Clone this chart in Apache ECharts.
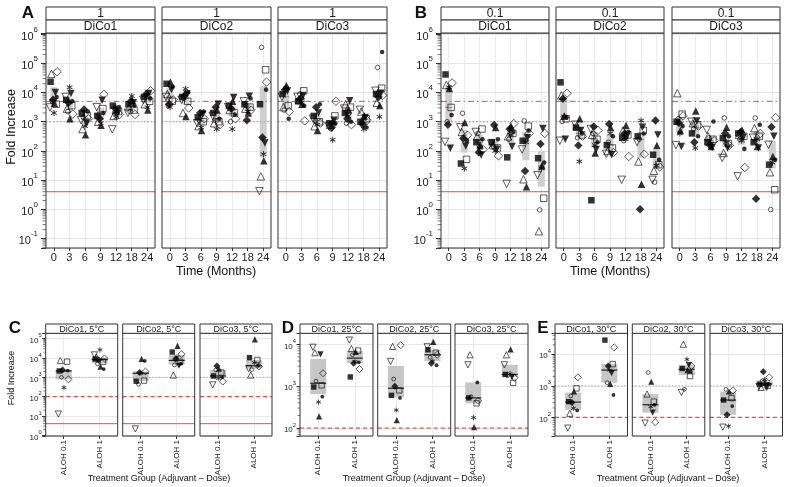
<!DOCTYPE html>
<html><head><meta charset="utf-8"><title>Fold increase</title>
<script src="https://cdn.jsdelivr.net/npm/echarts@6.0.0/dist/echarts.min.js"></script>
<style>html,body{margin:0;padding:0;background:#fff;}#chart{width:786px;height:487px;}</style>
</head><body><div id="chart"></div>
<script>
// ---------- categories / labels ----------
const timeMonths = ['0','3','6','9','12','18','24'];
const treatmentGroups = ['ALOH 0.1','ALOH 1'];
const doseStrips = ['1','0.1'];
const dicoNames = ['DiCo1','DiCo2','DiCo3'];
const tempLabels = ['5°C','25°C','30°C'];

// ---------- values: log10(fold increase) ----------
// one row per x category, 11 animals per row (index = symbol), null = no point
const A_DiCo1 = [
 [4.37,3.6,3.75,4.71,3.63,4.64,4.0,3.49,3.85,3.7,3.3],
 [3.75,3.55,3.65,3.26,3.1,3.45,3.97,3.85,3.7,3.35,4.18],
 [3.3,3.2,3.42,3.1,2.55,2.75,2.95,3.05,3.35,3.15,2.85],
 [3.2,3.45,3.1,3.94,2.88,3.0,3.74,3.5,3.3,3.25,2.95],
 [3.55,3.35,3.45,3.25,3.4,3.2,3.3,2.74,3.5,3.3,3.15],
 [3.6,3.4,3.7,3.25,3.74,3.5,3.65,3.3,3.55,3.35,3.88],
 [3.85,3.7,3.95,4.06,3.4,3.6,3.97,3.75,3.8,3.9,3.5]];
const A_DiCo2 = [
 [4.3,3.7,3.6,3.75,4.36,3.95,4.1,3.85,4.2,3.55,3.5],
 [3.85,3.7,3.9,3.47,3.18,3.3,3.95,3.75,4.0,3.8,4.13],
 [3.15,3.0,3.3,3.1,2.7,2.85,3.25,2.95,3.35,3.05,2.8],
 [3.3,3.0,3.5,2.9,3.4,2.95,3.6,3.2,3.1,3.05,2.75],
 [3.55,3.3,3.45,3.1,3.7,3.4,3.83,3.5,3.25,3.0,2.75],
 [3.6,3.5,3.05,3.4,3.3,3.45,3.87,3.7,3.8,3.55,3.35],
 [3.6,4.78,2.46,4.36,1.66,1.13,2.27,0.62,4.1,5.55,1.89]];
const A_DiCo3 = [
 [3.95,3.55,4.1,3.35,4.24,3.5,4.05,3.85,3.1,3.4,4.15],
 [3.7,4.06,3.8,3.03,3.6,3.75,3.9,3.85,3.55,3.95,3.65],
 [3.2,3.0,3.5,2.95,2.7,2.85,3.3,3.1,3.6,3.05,2.9],
 [2.95,3.2,2.8,3.7,3.0,2.9,3.05,2.85,2.95,2.75,2.38],
 [3.3,3.5,3.1,2.9,3.4,3.6,3.72,3.45,3.0,2.95,3.2],
 [3.0,3.1,2.9,3.05,3.2,3.35,3.15,3.41,2.8,2.95,2.75],
 [3.95,4.15,3.85,3.9,3.56,3.65,3.98,4.06,5.39,4.86,3.17]];
const B_DiCo1 = [
 [4.62,3.49,2.9,4.33,4.14,4.26,2.09,2.31,3.23,3.0,4.18],
 [1.57,1.71,2.43,2.54,2.97,2.65,2.17,2.81,2.35,3.29,1.4],
 [2.3,2.75,1.95,2.05,2.2,2.5,1.86,2.65,2.4,2.6,2.1],
 [2.3,2.1,2.89,1.83,2.8,2.2,2.05,2.25,2.4,2.15,2.0],
 [1.78,2.6,2.75,2.94,2.85,2.5,2.15,0.87,2.65,2.4,2.55],
 [2.35,2.85,1.31,2.6,0.77,1.03,2.45,2.05,2.7,3.03,2.3],
 [1.75,0.38,2.24,2.6,1.49,-0.75,2.77,1.17,1.6,-0.02,1.4]];
const B_DiCo2 = [
 [4.35,3.1,3.79,3.98,3.2,3.9,2.4,2.35,3.15,3.01,3.18],
 [2.8,2.55,2.19,2.5,3.1,2.85,2.7,2.9,2.6,2.45,1.64],
 [0.31,2.4,2.84,2.7,1.93,2.55,2.05,2.75,2.3,2.6,2.2],
 [2.2,2.1,2.92,1.95,2.8,2.0,1.87,1.9,2.5,2.3,2.6],
 [2.45,2.55,2.6,1.81,2.87,2.7,2.5,1.01,2.65,2.35,2.4],
 [2.5,2.7,0.0,1.89,0.86,1.64,2.81,2.3,2.6,2.4,3.04],
 [1.87,1.53,3.04,1.45,2.19,1.32,2.55,1.01,1.7,0.93,1.5]];
const B_DiCo3 = [
 [3.0,3.26,2.96,3.2,2.7,3.98,2.15,2.2,2.85,3.1,2.6],
 [2.6,2.9,2.3,2.85,3.37,2.95,3.03,3.0,2.5,2.75,2.1],
 [2.3,2.4,2.2,2.35,2.15,2.5,2.12,2.72,3.01,2.45,2.25],
 [2.44,2.25,2.6,2.19,2.81,1.93,2.1,1.76,2.5,3.13,2.3],
 [2.6,2.5,2.65,1.43,2.72,2.55,2.45,1.13,2.07,2.4,2.35],
 [2.3,2.5,0.36,2.6,2.15,2.78,2.1,2.45,2.9,3.13,2.4],
 [1.53,0.67,2.82,3.14,1.81,1.27,2.5,2.21,1.7,-0.01,1.6]];
// bottom: rows = [ALOH 0.1, ALOH 1]
const C_DiCo1 = [[3.33,3.81,3.38,2.9,null,3.87,null,1.1,3.35,3.0,2.47],[3.95,3.81,3.9,3.98,3.56,4.05,null,4.16,3.43,3.7,4.42]];
const C_DiCo2 = [[2.8,2.83,3.25,3.3,3.95,null,null,0.33,3.85,2.64,3.21],[4.31,3.8,3.95,4.2,4.63,3.12,3.6,null,3.7,3.64,4.05]];
const C_DiCo3 = [[3.07,3.25,3.59,2.78,3.45,null,null,2.61,3.0,3.38,2.95],[4.02,3.9,null,3.56,4.97,3.12,null,3.45,3.6,3.4,3.76]];
const D_DiCo1 = [[2.98,3.02,null,3.31,2.28,3.8,3.76,3.93,2.75,3.12,2.62],[3.22,3.85,3.55,3.41,3.82,3.9,null,4.1,3.57,3.75,3.59]];
const D_DiCo2 = [[2.78,2.9,3.0,3.98,2.19,3.95,null,3.59,2.72,3.17,2.43],[3.87,3.8,3.55,3.75,4.06,null,null,3.94,3.5,3.69,3.6]];
const D_DiCo3 = [[2.72,2.59,null,2.65,2.02,3.75,null,3.51,3.09,2.75,2.25],[3.28,3.08,null,3.2,3.88,3.75,3.22,3.51,null,3.25,3.3]];
const E_DiCo1 = [[2.5,2.92,2.47,3.27,2.82,2.13,null,1.66,2.22,2.68,2.29],[4.45,3.69,3.63,4.22,3.06,null,3.4,null,2.71,3.1,3.5]];
const E_DiCo2 = [[null,2.5,null,1.85,3.13,2.74,2.15,1.82,2.4,3.42,2.34],[3.55,3.31,null,3.63,3.5,4.32,3.66,2.79,3.45,2.89,3.84]];
const E_DiCo3 = [[2.55,2.61,2.08,2.85,2.82,null,null,1.69,2.36,2.89,1.72],[3.05,3.0,3.45,3.27,3.1,2.95,2.93,2.98,3.06,3.15,3.2]];
// threshold lines (fold increase)
const topLineValues = [4, 5000, 1000];
const C_lines = [4, 100, 1000];
const D_lines = [100];
const E_lines = [100, 1000];

// ---------- styling ----------
const FONT = '"Liberation Sans",Arial,sans-serif';
const DOWN = 'path://M0,0L10,0L5,9Z';
const STAR = 'path://M4.3,0H5.7V3.6L8.9,1.8L9.6,3L6.4,5L9.6,7L8.9,8.2L5.7,6.4V10H4.3V6.4L1.1,8.2L0.4,7L3.6,5L0.4,3L1.1,1.8L4.3,3.6Z';
const SHAPES = [
 {sym:'rect',fill:1,k:1.0},{sym:'rect',fill:0,k:1.0},
 {sym:'diamond',fill:1,k:1.3},{sym:'diamond',fill:0,k:1.3},
 {sym:'triangle',fill:1,k:1.15},{sym:'triangle',fill:0,k:1.15},
 {sym:DOWN,fill:1,k:1.15},{sym:DOWN,fill:0,k:1.15},
 {sym:'circle',fill:1,k:0.7},{sym:'circle',fill:0,k:0.7},
 {sym:STAR,fill:1,k:0.95}];
const JIT = [-3.2,2.4,-0.8,3.4,0.6,-2.4,1.6,-3.8,2.9,-1.6,0.2];
const LSTYLE_TOP = {
  4:{stroke:'#e0504a',dash:null,w:1},
  5000:{stroke:'#d94f4a',dash:[6,3,1.5,3],w:1},
  1000:{stroke:'#e57a74',dash:[1.5,2],w:1}
};
const LSTYLE_BOT = {
  4:{stroke:'#e0504a',dash:null,w:1},
  100:{stroke:'#df5550',dash:[4,3],w:1.2},
  1000:{stroke:'#c99a98',dash:[1.3,2],w:1}
};

const grids=[], xAxes=[], yAxes=[], series=[], graphics=[];

function quant(s,p){const h=(s.length-1)*p, lo=Math.floor(h); const a=s[lo], b=s[Math.min(lo+1,s.length-1)]; return a+(h-lo)*(b-a);}

function addPanel(p){
  const i = grids.length;
  grids.push({left:p.x, top:p.y, width:p.w, height:p.h, show:false, outerBoundsMode:'none', containLabel:false});
  xAxes.push({type:'category', gridIndex:i, data:p.cats, boundaryGap:true,
    axisLine:{show:false},
    axisTick:{show:true, alignWithLabel:true, interval:0, length:3, lineStyle:{color:'#333'}},
    axisLabel:{interval:0, fontFamily:FONT, fontSize:p.xfs, color:'#222', margin:p.xmargin, rotate:p.xrot||0},
    splitLine:{show:true, alignWithLabel:true, interval:0, lineStyle:{color:'#ebebeb', width:1}}});
  const yfs = p.yfs;
  yAxes.push({type:'log', logBase:10, gridIndex:i, min:Math.pow(10,p.lmin), max:Math.pow(10,p.lmax),
    axisLine:{show:false},
    axisTick:{show:p.showY, length:p.tick, lineStyle:{color:'#333'}},
    minorTick:{show:false}, minorSplitLine:{show:false},
    splitLine:{show:true, lineStyle:{color:'#e6e6e6'}},
    axisLabel:{show:p.showY, margin:p.ymargin,
      formatter:v=>{const e=Math.log10(v), r=Math.round(e); if(Math.abs(e-r)>1e-6) return ''; return '{b|10}{s|'+r+'}';},
      rich:{b:{fontFamily:FONT,fontSize:yfs,color:'#222',lineHeight:yfs*1.5,verticalAlign:'bottom'},
            s:{fontFamily:FONT,fontSize:yfs*0.72,color:'#222',lineHeight:yfs*1.5,verticalAlign:'top'}}}});
  // log minor ticks on the left axis (axis decoration from the scale)
  if(p.showY){
    const mt=[];
    for(let d=Math.floor(p.lmin); d<=Math.ceil(p.lmax); d++) for(let k=2;k<=9;k++){
      const lv=d+Math.log10(k); if(lv>p.lmin && lv<p.lmax) mt.push([0,Math.pow(10,lv)]);}
    series.push({type:'custom', xAxisIndex:i, yAxisIndex:i, z:5, silent:true, clip:false, data:mt,
      renderItem:(params,api)=>{const c=api.coord([0,api.value(1)]); const x0=params.coordSys.x;
        return {type:'line',shape:{x1:x0-p.tick*0.7,y1:c[1],x2:x0,y2:c[1]},style:{stroke:'#444',lineWidth:0.7}};}});
  }
  // boxes (IQR + median) computed from the data
  const boxData = p.data.map((arr,ci)=>{const s=arr.filter(v=>v!==null).sort((a,b)=>a-b);
    return [ci, Math.pow(10,quant(s,.25)), Math.pow(10,quant(s,.75)), Math.pow(10,quant(s,.5))];});
  series.push({type:'custom', xAxisIndex:i, yAxisIndex:i, z:2, silent:true, data:boxData,
    renderItem:(params,api)=>{const x=api.value(0);
      const ph=api.coord([x,api.value(2)]), pl=api.coord([x,api.value(1)]), pm=api.coord([x,api.value(3)]);
      const w=p.boxW;
      return {type:'group',children:[
        {type:'rect',shape:{x:ph[0]-w/2,y:ph[1],width:w,height:pl[1]-ph[1]},style:{fill:p.boxColor}},
        {type:'line',shape:{x1:ph[0]-w/2,y1:pm[1],x2:ph[0]+w/2,y2:pm[1]},style:{stroke:p.medColor,lineWidth:p.medW}}]};}});
  // threshold lines
  series.push({type:'custom', xAxisIndex:i, yAxisIndex:i, z:3, silent:true, data:p.lines.map(v=>[0,v]),
    renderItem:(params,api)=>{const v=api.value(1), c=api.coord([0,v]), cs=params.coordSys, st=p.lstyle[v];
      return {type:'line',shape:{x1:cs.x,y1:c[1],x2:cs.x+cs.width,y2:c[1]},
        style:{stroke:st.stroke,lineWidth:st.w,lineDash:st.dash}};}});
  // points
  const items=[];
  p.data.forEach((arr,ci)=>arr.forEach((lv,s)=>{ if(lv===null) return; const sh=SHAPES[s];
    items.push({value:[ci,Math.pow(10,lv)], symbol:sh.sym, symbolSize:p.sym*sh.k, symbolOffset:[JIT[s]*p.jit,0],
      itemStyle: sh.fill?{color:'#000',borderWidth:0}:{color:'rgba(255,255,255,0)',borderColor:'#000',borderWidth:0.8}});}));
  series.push({type:'scatter', xAxisIndex:i, yAxisIndex:i, z:4, silent:true, data:items});
  // border on top
  graphics.push({type:'rect', z:100, shape:{x:p.x,y:p.y,width:p.w,height:p.h}, style:{fill:'none',stroke:'#333',lineWidth:1}});
}
function strip(x,y,w,h,text,fs){
  graphics.push({type:'rect', z:100, shape:{x:x,y:y,width:w,height:h}, style:{fill:'#fff',stroke:'#333',lineWidth:1}});
  graphics.push({type:'text', z:101, style:{text:text, x:x+w/2, y:y+h/2+0.5, textAlign:'center', textVerticalAlign:'middle', fontFamily:FONT, fontSize:fs, fill:'#1a1a1a'}});
}
function label(text,x,y,fs,opt){
  opt=opt||{};
  graphics.push({type:'text', z:101, x:x, y:y, rotation:opt.rot||0,
    style:{text:text, x:0, y:0, textAlign:'center', textVerticalAlign:'middle', fontFamily:FONT, fontSize:fs, fontWeight:opt.bold?'bold':'normal', fill:'#111'}});
}

// ---------- top row (A, B) ----------
const topData = [[A_DiCo1,A_DiCo2,A_DiCo3],[B_DiCo1,B_DiCo2,B_DiCo3]];
const topX = [[46,162,278],[441,556,672]];
for(let r=0;r<2;r++) for(let d=0;d<3;d++){
  const x=topX[r][d], w=r?108:109;
  addPanel({x:x,y:33,w:w,h:215,cats:timeMonths,data:topData[r][d],lmin:-1.325,lmax:6.04,
    showY:d===0,xfs:11,yfs:11,xmargin:4,ymargin:8,tick:5,boxW:7,boxColor:'#cfcfcf',medColor:'#8a8a8a',medW:1,
    sym:6.5,jit:1.0,lines:topLineValues,lstyle:LSTYLE_TOP});
  strip(x,7,w,13,doseStrips[r],12);
  strip(x,20,w,13,dicoNames[d],12);
}
label('A',28,13,17,{bold:1});
label('B',421,13,17,{bold:1});
label('Fold Increase',12,127,12.5,{rot:Math.PI/2});
label('Time (Months)',216,272,12.5);
label('Time (Months)',610,272,12.5);

// ---------- bottom row (C, D, E) ----------
const botData = [[C_DiCo1,C_DiCo2,C_DiCo3],[D_DiCo1,D_DiCo2,D_DiCo3],[E_DiCo1,E_DiCo2,E_DiCo3]];
const botX = [[45.7,122.7,200],[300,377.7,455],[555,632.3,710]];
const botW = [72,73,72.5];
const botRange = [[-0.036,5.295],[1.81,4.27],[1.41,4.675]];
const botLines = [C_lines,D_lines,E_lines];
for(let r=0;r<3;r++) for(let d=0;d<3;d++){
  const x=botX[r][d], w=botW[r];
  addPanel({x:x,y:333,w:w,h:103,cats:treatmentGroups,data:botData[r][d],lmin:botRange[r][0],lmax:botRange[r][1],
    showY:d===0,xfs:8,yfs:8,xmargin:4,xrot:90,ymargin:4,tick:3.5,boxW:16,boxColor:'#c6c6c6',medColor:'#222',medW:1.2,
    sym:5.4,jit:1.4,lines:botLines[r],lstyle:LSTYLE_BOT});
  strip(x,324,w,9.3,dicoNames[d]+', '+tempLabels[r],9);
}
label('C',15,328,17,{bold:1});
label('D',288,328,17,{bold:1});
label('E',543,328,17,{bold:1});
label('Fold Increase',12,378,9,{rot:Math.PI/2});
label('Treatment Group (Adjuvant – Dose)',159,479,9);
label('Treatment Group (Adjuvant – Dose)',414,479,9);
label('Treatment Group (Adjuvant – Dose)',668,479,9);

const chart = echarts.init(document.getElementById('chart'), null, {renderer:'canvas'});
chart.setOption({animation:false, backgroundColor:'#fff', grid:grids, xAxis:xAxes, yAxis:yAxes, series:series, graphic:graphics});
</script></body></html>
